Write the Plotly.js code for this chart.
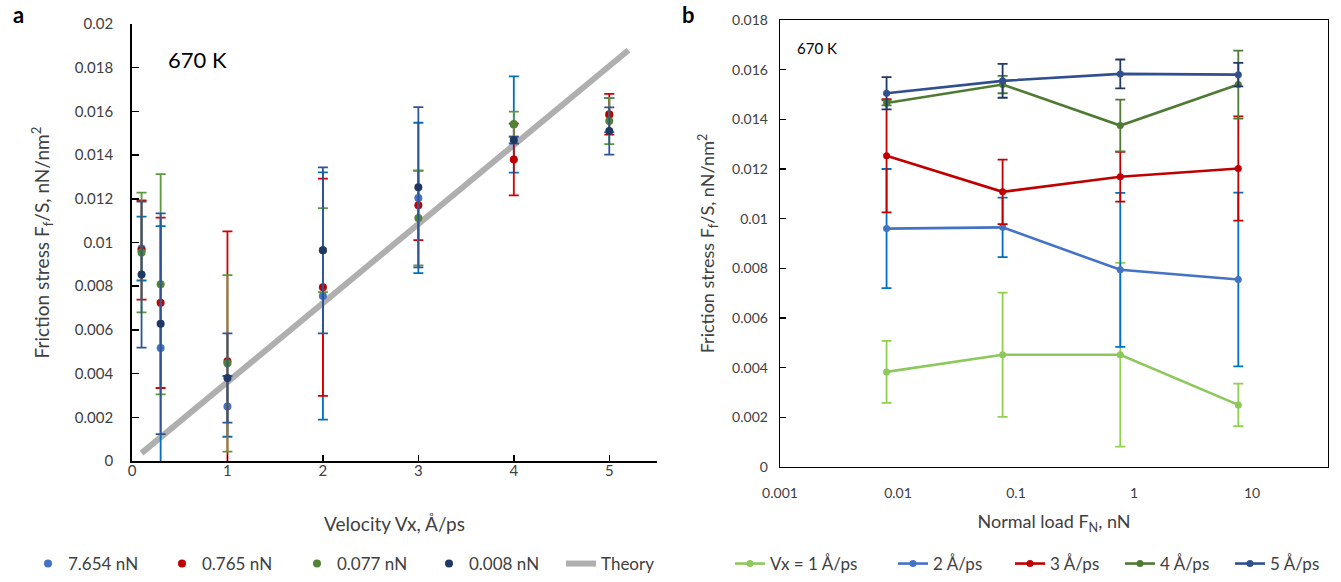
<!DOCTYPE html>
<html>
<head>
<meta charset="utf-8">
<script src="https://cdn.plot.ly/plotly-3.0.1.min.js"></script>
<style>html,body{margin:0;padding:0;background:#fff;}#chart{width:1341px;height:582px;}</style>
</head>
<body>
<div id="chart"></div>
<script>
// ---------- Panel a data ----------
const velocities = [0.1, 0.3, 1, 2, 3, 4, 5];
const stress7654 = [0.00972, 0.00517, 0.00250, 0.00755, 0.01204, 0.01540, 0.01583];
const err7654    = [0.00146, 0.00558, 0.00139, 0.00566, 0.00344, 0.00220, 0.00078];
const stress0765 = [0.00966, 0.00724, 0.00456, 0.00795, 0.01170, 0.01380, 0.01587];
const err0765    = [0.00227, 0.00390, 0.00595, 0.00497, 0.00159, 0.00164, 0.00093];
const stress0077 = [0.00954, 0.00809, 0.00447, 0.00965, 0.01112, 0.01542, 0.01556];
const err0077    = [0.00274, 0.00504, 0.00404, 0.00192, 0.00217, 0.00057, 0.00106];
const stress0008 = [0.00853, 0.00628, 0.00380, 0.00964, 0.01253, 0.01469, 0.01510];
const err0008    = [0.00334, 0.00505, 0.00204, 0.00380, 0.00367, 0.00016, 0.00108];
const theoryV = [0.1, 5.2];
const theoryF = [0.00036, 0.0188];
const seriesNamesA = ['7.654 nN', '0.765 nN', '0.077 nN', '0.008 nN', 'Theory'];
const yTickValsA = [0, 0.002, 0.004, 0.006, 0.008, 0.01, 0.012, 0.014, 0.016, 0.018, 0.02];
const yTickTextA = ['0', '0.002', '0.004', '0.006', '0.008', '0.01', '0.012', '0.014', '0.016', '0.018', '0.02'];
const xTickValsA = [0, 1, 2, 3, 4, 5];

// ---------- Panel b data ----------
const loads = [0.008, 0.077, 0.765, 7.654];
const vx1 = [0.00383, 0.00452, 0.00452, 0.00250];
const vx1Err = [0.00125, 0.00250, 0.00370, 0.00086];
const vx2 = [0.00960, 0.00965, 0.00794, 0.00755];
const vx2Err = [0.00240, 0.00120, 0.00310, 0.00350];
const vx3 = [0.01253, 0.01108, 0.01169, 0.01202];
const vx3Err = [0.00228, 0.00130, 0.00100, 0.00210];
const vx4 = [0.01466, 0.01540, 0.01375, 0.01540];
const vx4Err = [0.00010, 0.00035, 0.00104, 0.00137];
const vx5 = [0.01505, 0.01555, 0.01583, 0.01580];
const vx5Err = [0.00065, 0.00068, 0.00058, 0.00047];
const seriesNamesB = ['Vx = 1 Å/ps', '2 Å/ps', '3 Å/ps', '4 Å/ps', '5 Å/ps'];
const yTickValsB = [0, 0.002, 0.004, 0.006, 0.008, 0.01, 0.012, 0.014, 0.016, 0.018];
const yTickTextB = ['0', '0.002', '0.004', '0.006', '0.008', '0.01', '0.012', '0.014', '0.016', '0.018'];
const xTickValsB = [0.001, 0.01, 0.1, 1, 10];
const xTickTextB = ['0.001', '0.01', '0.1', '1', '10'];

const FONT = 'Lato, "Open Sans", sans-serif';
const TXT = '#404040';

function ptsA(name, y, err, mcol, ecol, leg) {
  return {
    type: 'scatter', mode: 'markers', name: name, x: velocities, y: y,
    xaxis: 'x', yaxis: 'y', legend: leg,
    marker: {color: mcol, size: 8},
    error_y: {type: 'data', array: err, visible: true, color: ecol, thickness: 1.8, width: 5}
  };
}
function lineB(name, y, err, lcol, ecol, leg) {
  return {
    type: 'scatter', mode: 'lines+markers', name: name, x: loads, y: y,
    xaxis: 'x2', yaxis: 'y2', legend: leg,
    line: {color: lcol, width: 2.6}, marker: {color: lcol, size: 7},
    error_y: {type: 'data', array: err, visible: true, color: ecol, thickness: 1.8, width: 5}
  };
}

const traces = [
  {type: 'scatter', mode: 'lines', name: seriesNamesA[4], x: theoryV, y: theoryF,
   xaxis: 'x', yaxis: 'y', legend: 'legend5',
   line: {color: '#AFAFAF', width: 6}},
  ptsA(seriesNamesA[0], stress7654, err7654, '#4472C4', '#0070C0', 'legend'),
  ptsA(seriesNamesA[1], stress0765, err0765, '#C00000', '#D40000', 'legend2'),
  ptsA(seriesNamesA[2], stress0077, err0077, '#548235', '#5B9A3A', 'legend3'),
  ptsA(seriesNamesA[3], stress0008, err0008, '#203864', '#2F5597', 'legend4'),
  lineB(seriesNamesB[0], vx1, vx1Err, '#8CC85C', '#92D050', 'legend6'),
  lineB(seriesNamesB[1], vx2, vx2Err, '#4472C4', '#0070C0', 'legend7'),
  lineB(seriesNamesB[2], vx3, vx3Err, '#C00000', '#C00000', 'legend8'),
  lineB(seriesNamesB[3], vx4, vx4Err, '#4F7A33', '#4F7A33', 'legend9'),
  lineB(seriesNamesB[4], vx5, vx5Err, '#2F4F8F', '#1F3864', 'legend10')
];

const W = 1341, H = 582;
const px = v => v / W, py = v => 1 - v / H;

function leg(xpix, size) {
  return {orientation: 'h', x: px(xpix), y: py(564), xanchor: 'left', yanchor: 'middle',
          font: {size: size, color: TXT}, bgcolor: 'rgba(0,0,0,0)'};
}

const layout = {
  width: W, height: H,
  margin: {l: 0, r: 0, t: 0, b: 0},
  paper_bgcolor: '#fff', plot_bgcolor: '#fff',
  font: {family: FONT, color: TXT, size: 15},
  showlegend: true,
  xaxis: {
    domain: [px(132), px(657)], range: [0, 5.5],
    tickvals: xTickValsA, ticks: 'inside', ticklen: 6, tickcolor: '#000', tickwidth: 1.5,
    showline: true, linecolor: '#000', linewidth: 1.8, showgrid: false, zeroline: false,
    tickfont: {size: 15, color: TXT}, ticklabelstandoff: -5,
    title: {text: 'Velocity Vx, Å/ps', font: {size: 19, color: TXT}, standoff: 40}
  },
  yaxis: {
    domain: [py(461), py(24)], range: [0, 0.02],
    tickvals: yTickValsA, ticktext: yTickTextA, ticks: 'inside', ticklen: 7, tickcolor: '#000', tickwidth: 1.5,
    showline: true, linecolor: '#000', linewidth: 1.8, showgrid: false, zeroline: false,
    tickfont: {size: 15, color: TXT}, ticklabelstandoff: 14,
    title: {text: 'Friction stress F<sub>f</sub>/S, nN/nm<sup>2</sup>', font: {size: 19, color: TXT}, standoff: 20}
  },
  xaxis2: {
    type: 'log', domain: [px(780), px(1328)], range: [-3, 1.644],
    tickvals: xTickValsB, ticktext: xTickTextB, ticks: '',
    showline: true, mirror: true, linecolor: '#000', linewidth: 1.3, showgrid: false, zeroline: false,
    tickfont: {size: 14, color: TXT}, ticklabelstandoff: 13,
    title: {text: 'Normal load F<sub>N</sub>, nN', font: {size: 18, color: TXT}, standoff: 15},
    anchor: 'y2'
  },
  yaxis2: {
    domain: [py(467), py(20)], range: [0, 0.018],
    tickvals: yTickValsB, ticktext: yTickTextB, ticks: 'inside', ticklen: 6, tickcolor: '#000', tickwidth: 1.3,
    showline: true, mirror: true, linecolor: '#000', linewidth: 1.3, showgrid: false, zeroline: false,
    tickfont: {size: 14, color: TXT}, ticklabelstandoff: 8,
    title: {text: 'Friction stress F<sub>f</sub>/S, nN/nm<sup>2</sup>', font: {size: 18, color: TXT}, standoff: 12},
    anchor: 'x2'
  },
  legend: leg(28, 17), legend2: leg(162, 17), legend3: leg(297, 17), legend4: leg(429, 17), legend5: leg(561, 17),
  legend6: leg(730, 17), legend7: leg(893, 17), legend8: leg(1010, 17), legend9: leg(1120, 17), legend10: leg(1230, 17),
  annotations: [
    {xref: 'paper', yref: 'paper', x: px(18), y: py(14), text: '<b>a</b>', showarrow: false,
     font: {size: 22, color: '#000', family: FONT}, xanchor: 'center', yanchor: 'middle'},
    {xref: 'paper', yref: 'paper', x: px(688), y: py(14), text: '<b>b</b>', showarrow: false,
     font: {size: 22, color: '#000', family: FONT}, xanchor: 'center', yanchor: 'middle'},
    {xref: 'paper', yref: 'paper', x: px(166), y: py(60), text: '670 K', showarrow: false,
     font: {size: 22, color: '#000', family: FONT}, xanchor: 'left', yanchor: 'middle'},
    {xref: 'paper', yref: 'paper', x: px(795), y: py(48), text: '670 K', showarrow: false,
     font: {size: 15, color: '#000', family: FONT}, xanchor: 'left', yanchor: 'middle'}
  ]
};

Plotly.newPlot('chart', traces, layout, {displayModeBar: false, staticPlot: true});
</script>
</body>
</html>
